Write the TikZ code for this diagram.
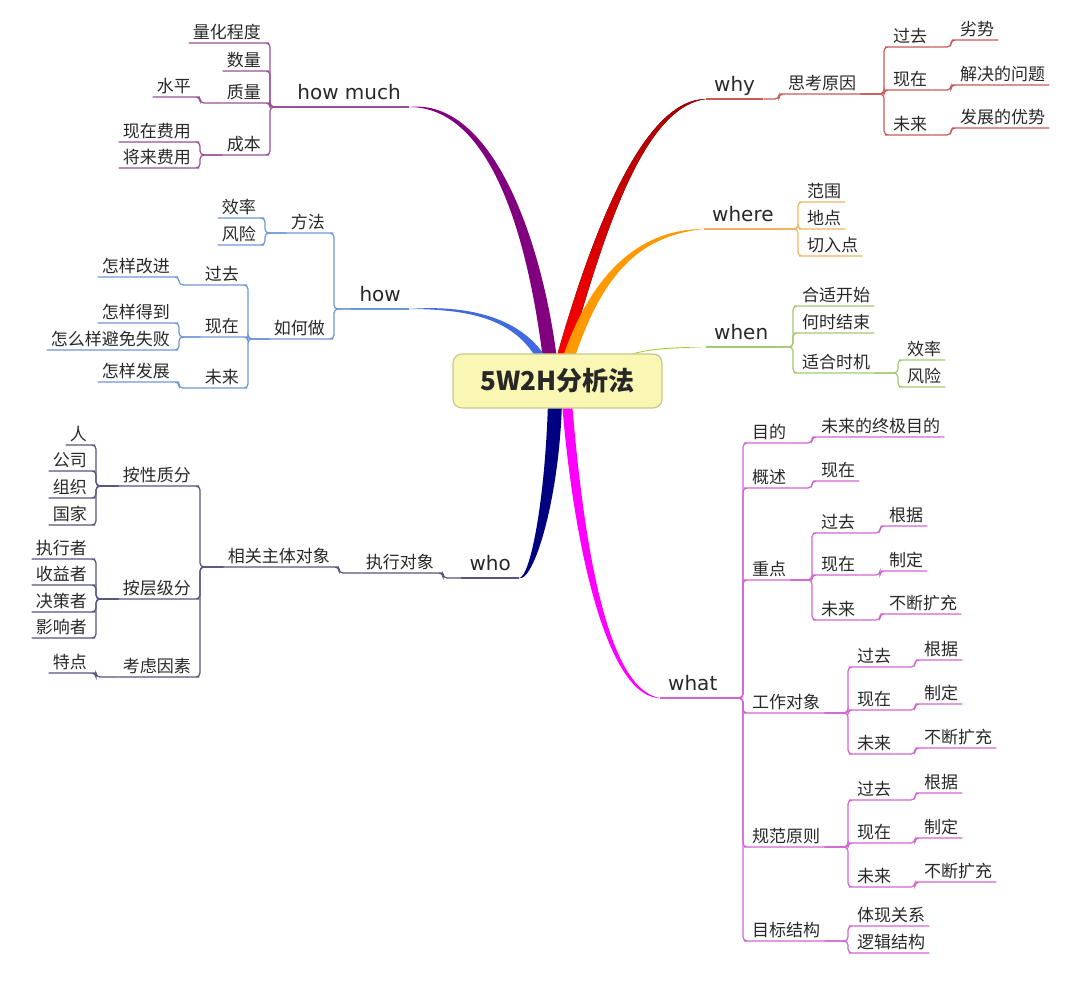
\documentclass[tikz,border=0pt]{standalone}
\usepackage{fontspec}
\setmainfont{Noto Sans CJK SC}
\newfontfamily\latinfont{DejaVu Sans}
\usetikzlibrary{calc,backgrounds}

\definecolor{ink}{RGB}{40,40,40}
\definecolor{rootfill}{RGB}{250,247,180}
\definecolor{rootedge}{RGB}{200,200,140}
\definecolor{hmthick}{RGB}{128,0,128}
\definecolor{howthick}{RGB}{65,105,225}
\definecolor{whothick}{RGB}{0,0,128}
\definecolor{whythick}{RGB}{255,0,0}
\definecolor{whyend}{RGB}{170,0,0}
\definecolor{wherethick}{RGB}{255,153,0}
\definecolor{whenthick}{RGB}{154,205,50}
\definecolor{whatthick}{RGB}{255,0,255}
\definecolor{hmthin}{RGB}{150,80,150}
\definecolor{howthin}{RGB}{110,150,215}
\definecolor{whothin}{RGB}{85,85,125}
\definecolor{whythin}{RGB}{200,90,90}
\definecolor{wherethin}{RGB}{238,180,100}
\definecolor{whenthin}{RGB}{165,200,115}
\definecolor{whatthin}{RGB}{210,100,210}

% colour, start, first control, second control, end, half width, second control back
\newcommand{\bough}[7]{%
  \fill[#1] ($(#2)+(-#6,0)$) .. controls +(#3) and +(#4) .. (#5)
    .. controls +(#7) and +(#3) .. ($(#2)+(#6,0)$) -- cycle;}

\begin{document}
\begin{tikzpicture}[x=1pt, y=-1pt,
    leaf/.style={font=\fontsize{17}{20}\selectfont, text=ink, inner xsep=4pt,
      inner ysep=1pt, text height=13pt, text depth=3pt},
    leafl/.style={leaf, anchor=south east},
    leafr/.style={leaf, anchor=south west},
    topic/.style={font=\latinfont\fontsize{20}{24}\selectfont, text=ink, inner xsep=8pt,
      inner ysep=2.5pt, text height=15pt, text depth=5pt},
    topicl/.style={topic, anchor=south east},
    topicr/.style={topic, anchor=south west},
    rootbox/.style={draw=rootedge, fill=rootfill, line width=1.2pt, rounded corners=9pt,
      minimum width=209pt, minimum height=54pt, text=ink,
      font=\bfseries\fontsize{26}{30}\selectfont},
    elbowr/.style={to path={-- ($(\tikztotarget |- \tikztostart)+(-5,0)$) |- (\tikztotarget)}},
    elbowl/.style={to path={-- ($(\tikztotarget |- \tikztostart)+(5,0)$) |- (\tikztotarget)}},
    thin/.style={line width=1.2pt, rounded corners=4pt},
    hmline/.style={thin, draw=hmthin},
    howline/.style={thin, draw=howthin},
    wholine/.style={thin, draw=whothin},
    whyline/.style={thin, draw=whythin},
    whereline/.style={thin, draw=wherethin},
    whenline/.style={thin, draw=whenthin},
    whatline/.style={thin, draw=whatthin}]
    \useasboundingbox (0,0) rectangle (1080,995);

    % Центр
    \node[rootbox] (root) at (557.5,381) {5W2H分析法};

    % how much
    \node[topicl] (howmuch) at (409,107) {how much};
    \node[leafl] (lianghua) at (265,43) {量化程度};
    \node[leafl] (shuliang) at (265,71) {数量};
    \node[leafl] (zhiliang) at (265,103) {质量};
    \node[leafl] (chengben) at (265,155) {成本};
    \node[leafl] (shuiping) at (195,97) {水平};
    \node[leafl] (xzfeiyong) at (195,142) {现在费用};
    \node[leafl] (jlfeiyong) at (195,168) {将来费用};

    \draw[hmline] (howmuch.south west) -- (howmuch.south east);
    \draw[hmline] (howmuch.south west) to[elbowl] (lianghua.south east) -- (lianghua.south west);
    \draw[hmline] (howmuch.south west) to[elbowl] (shuliang.south east) -- (shuliang.south west);
    \draw[hmline] (howmuch.south west) to[elbowl] (zhiliang.south east) -- (zhiliang.south west);
    \draw[hmline] (howmuch.south west) to[elbowl] (chengben.south east) -- (chengben.south west);
    \draw[hmline] (zhiliang.south west) to[elbowl] (shuiping.south east) -- (shuiping.south west);
    \draw[hmline] (chengben.south west) to[elbowl] (xzfeiyong.south east) -- (xzfeiyong.south west);
    \draw[hmline] (chengben.south west) to[elbowl] (jlfeiyong.south east) -- (jlfeiyong.south west);

    % how
    \node[topicl] (how) at (409,309) {how};
    \node[leafl] (fangfa) at (329,233) {方法};
    \node[leafl] (ruhezuo) at (329,339) {如何做};
    \node[leafl] (hxiaolv) at (260,218) {效率};
    \node[leafl] (hfengxian) at (260,245) {风险};
    \node[leafl] (hguoqu) at (243,285) {过去};
    \node[leafl] (hxianzai) at (243,337) {现在};
    \node[leafl] (hweilai) at (243,388) {未来};
    \node[leafl] (gaijin) at (174,277) {怎样改进};
    \node[leafl] (dedao) at (174,323) {怎样得到};
    \node[leafl] (bimian) at (174,350) {怎么样避免失败};
    \node[leafl] (fazhan) at (174,382) {怎样发展};

    \draw[howline] (how.south west) -- (how.south east);
    \draw[howline] (how.south west) to[elbowl] (fangfa.south east) -- (fangfa.south west);
    \draw[howline] (how.south west) to[elbowl] (ruhezuo.south east) -- (ruhezuo.south west);
    \draw[howline] (fangfa.south west) to[elbowl] (hxiaolv.south east) -- (hxiaolv.south west);
    \draw[howline] (fangfa.south west) to[elbowl] (hfengxian.south east) -- (hfengxian.south west);
    \draw[howline] (ruhezuo.south west) to[elbowl] (hguoqu.south east) -- (hguoqu.south west);
    \draw[howline] (ruhezuo.south west) to[elbowl] (hxianzai.south east) -- (hxianzai.south west);
    \draw[howline] (ruhezuo.south west) to[elbowl] (hweilai.south east) -- (hweilai.south west);
    \draw[howline] (hguoqu.south west) to[elbowl] (gaijin.south east) -- (gaijin.south west);
    \draw[howline] (hxianzai.south west) to[elbowl] (dedao.south east) -- (dedao.south west);
    \draw[howline] (hxianzai.south west) to[elbowl] (bimian.south east) -- (bimian.south west);
    \draw[howline] (hweilai.south west) to[elbowl] (fazhan.south east) -- (fazhan.south west);

    % who
    \node[topicl] (who) at (519,578) {who};
    \node[leafl] (zhixing) at (438,573) {执行对象};
    \node[leafl] (xiangguan) at (334,567) {相关主体对象};
    \node[leafl] (xingzhi) at (195,486) {按性质分};
    \node[leafl] (cengji) at (195,599) {按层级分};
    \node[leafl] (yinsu) at (195,677) {考虑因素};
    \node[leafl] (ren) at (91,445) {人};
    \node[leafl] (gongsi) at (91,471) {公司};
    \node[leafl] (zuzhi) at (91,498) {组织};
    \node[leafl] (guojia) at (91,525) {国家};
    \node[leafl] (zhixingzhe) at (91,559) {执行者};
    \node[leafl] (shouyi) at (91,585) {收益者};
    \node[leafl] (juece) at (91,612) {决策者};
    \node[leafl] (yingxiang) at (91,638) {影响者};
    \node[leafl] (tedian) at (91,673) {特点};

    \draw[wholine] (who.south west) -- (who.south east);
    \draw[wholine] (who.south west) to[elbowl] (zhixing.south east) -- (zhixing.south west);
    \draw[wholine] (zhixing.south west) to[elbowl] (xiangguan.south east) -- (xiangguan.south west);
    \draw[wholine] (xiangguan.south west) to[elbowl] (xingzhi.south east) -- (xingzhi.south west);
    \draw[wholine] (xiangguan.south west) to[elbowl] (cengji.south east) -- (cengji.south west);
    \draw[wholine] (xiangguan.south west) to[elbowl] (yinsu.south east) -- (yinsu.south west);
    \draw[wholine] (xingzhi.south west) to[elbowl] (ren.south east) -- (ren.south west);
    \draw[wholine] (xingzhi.south west) to[elbowl] (gongsi.south east) -- (gongsi.south west);
    \draw[wholine] (xingzhi.south west) to[elbowl] (zuzhi.south east) -- (zuzhi.south west);
    \draw[wholine] (xingzhi.south west) to[elbowl] (guojia.south east) -- (guojia.south west);
    \draw[wholine] (cengji.south west) to[elbowl] (zhixingzhe.south east) -- (zhixingzhe.south west);
    \draw[wholine] (cengji.south west) to[elbowl] (shouyi.south east) -- (shouyi.south west);
    \draw[wholine] (cengji.south west) to[elbowl] (juece.south east) -- (juece.south west);
    \draw[wholine] (cengji.south west) to[elbowl] (yingxiang.south east) -- (yingxiang.south west);
    \draw[wholine] (yinsu.south west) to[elbowl] (tedian.south east) -- (tedian.south west);

    % why
    \node[topicr] (why) at (706,99) {why};
    \node[leafr] (yuanyin) at (784,94) {思考原因};
    \node[leafr] (yguoqu) at (889,47) {过去};
    \node[leafr] (yxianzai) at (889,90) {现在};
    \node[leafr] (yweilai) at (889,135) {未来};
    \node[leafr] (lieshi) at (956,40) {劣势};
    \node[leafr] (jiejue) at (956,85) {解决的问题};
    \node[leafr] (youshi) at (956,128) {发展的优势};

    \draw[whyline] (why.south west) -- (why.south east);
    \draw[whyline] (why.south east) to[elbowr] (yuanyin.south west) -- (yuanyin.south east);
    \draw[whyline] (yuanyin.south east) to[elbowr] (yguoqu.south west) -- (yguoqu.south east);
    \draw[whyline] (yuanyin.south east) to[elbowr] (yxianzai.south west) -- (yxianzai.south east);
    \draw[whyline] (yuanyin.south east) to[elbowr] (yweilai.south west) -- (yweilai.south east);
    \draw[whyline] (yguoqu.south east) to[elbowr] (lieshi.south west) -- (lieshi.south east);
    \draw[whyline] (yxianzai.south east) to[elbowr] (jiejue.south west) -- (jiejue.south east);
    \draw[whyline] (yweilai.south east) to[elbowr] (youshi.south west) -- (youshi.south east);

    % where
    \node[topicr] (where) at (704,229) {where};
    \node[leafr] (fanwei) at (803,202) {范围};
    \node[leafr] (didian) at (803,229) {地点};
    \node[leafr] (qieru) at (803,256) {切入点};

    \draw[whereline] (where.south west) -- (where.south east);
    \draw[whereline] (where.south east) to[elbowr] (fanwei.south west) -- (fanwei.south east);
    \draw[whereline] (where.south east) to[elbowr] (didian.south west) -- (didian.south east);
    \draw[whereline] (where.south east) to[elbowr] (qieru.south west) -- (qieru.south east);

    % when
    \node[topicr] (when) at (706,347) {when};
    \node[leafr] (kaishi) at (798,306) {合适开始};
    \node[leafr] (jieshu) at (798,333) {何时结束};
    \node[leafr] (shiji) at (798,373) {适合时机};
    \node[leafr] (wxiaolv) at (903,360) {效率};
    \node[leafr] (wfengxian) at (903,387) {风险};

    \draw[whenline] (when.south west) -- (when.south east);
    \draw[whenline] (when.south east) to[elbowr] (kaishi.south west) -- (kaishi.south east);
    \draw[whenline] (when.south east) to[elbowr] (jieshu.south west) -- (jieshu.south east);
    \draw[whenline] (when.south east) to[elbowr] (shiji.south west) -- (shiji.south east);
    \draw[whenline] (shiji.south east) to[elbowr] (wxiaolv.south west) -- (wxiaolv.south east);
    \draw[whenline] (shiji.south east) to[elbowr] (wfengxian.south west) -- (wfengxian.south east);

    % what
    \node[topicr] (what) at (660,698) {what};
    \node[leafr] (mudi) at (748,443) {目的};
    \node[leafr] (gaishu) at (748,488) {概述};
    \node[leafr] (zhongdian) at (748,580) {重点};
    \node[leafr] (gongzuo) at (748,713) {工作对象};
    \node[leafr] (guifan) at (748,847) {规范原则};
    \node[leafr] (jiegou) at (748,941) {目标结构};
    \node[leafr] (zhongji) at (817,437) {未来的终极目的};
    \node[leafr] (gsxianzai) at (817,481) {现在};
    \node[leafr] (zguoqu) at (817,533) {过去};
    \node[leafr] (zxianzai) at (817,575) {现在};
    \node[leafr] (zweilai) at (817,620) {未来};
    \node[leafr] (zgenju) at (885,526) {根据};
    \node[leafr] (zzhiding) at (885,571) {制定};
    \node[leafr] (zkuochong) at (885,614) {不断扩充};
    \node[leafr] (gguoqu) at (853,667) {过去};
    \node[leafr] (gxianzai) at (853,710) {现在};
    \node[leafr] (gweilai) at (853,754) {未来};
    \node[leafr] (ggenju) at (920,660) {根据};
    \node[leafr] (gzhiding) at (920,704) {制定};
    \node[leafr] (gkuochong) at (920,748) {不断扩充};
    \node[leafr] (fguoqu) at (853,800) {过去};
    \node[leafr] (fxianzai) at (853,843) {现在};
    \node[leafr] (fweilai) at (853,887) {未来};
    \node[leafr] (fgenju) at (920,793) {根据};
    \node[leafr] (fzhiding) at (920,838) {制定};
    \node[leafr] (fkuochong) at (920,882) {不断扩充};
    \node[leafr] (tixian) at (853,926) {体现关系};
    \node[leafr] (luoji) at (853,953) {逻辑结构};

    \draw[whatline] (what.south west) -- (what.south east);
    \draw[whatline] (what.south east) to[elbowr] (mudi.south west) -- (mudi.south east);
    \draw[whatline] (what.south east) to[elbowr] (gaishu.south west) -- (gaishu.south east);
    \draw[whatline] (what.south east) to[elbowr] (zhongdian.south west) -- (zhongdian.south east);
    \draw[whatline] (what.south east) to[elbowr] (gongzuo.south west) -- (gongzuo.south east);
    \draw[whatline] (what.south east) to[elbowr] (guifan.south west) -- (guifan.south east);
    \draw[whatline] (what.south east) to[elbowr] (jiegou.south west) -- (jiegou.south east);
    \draw[whatline] (mudi.south east) to[elbowr] (zhongji.south west) -- (zhongji.south east);
    \draw[whatline] (gaishu.south east) to[elbowr] (gsxianzai.south west) -- (gsxianzai.south east);
    \draw[whatline] (zhongdian.south east) to[elbowr] (zguoqu.south west) -- (zguoqu.south east);
    \draw[whatline] (zhongdian.south east) to[elbowr] (zxianzai.south west) -- (zxianzai.south east);
    \draw[whatline] (zhongdian.south east) to[elbowr] (zweilai.south west) -- (zweilai.south east);
    \draw[whatline] (zguoqu.south east) to[elbowr] (zgenju.south west) -- (zgenju.south east);
    \draw[whatline] (zxianzai.south east) to[elbowr] (zzhiding.south west) -- (zzhiding.south east);
    \draw[whatline] (zweilai.south east) to[elbowr] (zkuochong.south west) -- (zkuochong.south east);
    \draw[whatline] (gongzuo.south east) to[elbowr] (gguoqu.south west) -- (gguoqu.south east);
    \draw[whatline] (gongzuo.south east) to[elbowr] (gxianzai.south west) -- (gxianzai.south east);
    \draw[whatline] (gongzuo.south east) to[elbowr] (gweilai.south west) -- (gweilai.south east);
    \draw[whatline] (gguoqu.south east) to[elbowr] (ggenju.south west) -- (ggenju.south east);
    \draw[whatline] (gxianzai.south east) to[elbowr] (gzhiding.south west) -- (gzhiding.south east);
    \draw[whatline] (gweilai.south east) to[elbowr] (gkuochong.south west) -- (gkuochong.south east);
    \draw[whatline] (guifan.south east) to[elbowr] (fguoqu.south west) -- (fguoqu.south east);
    \draw[whatline] (guifan.south east) to[elbowr] (fxianzai.south west) -- (fxianzai.south east);
    \draw[whatline] (guifan.south east) to[elbowr] (fweilai.south west) -- (fweilai.south east);
    \draw[whatline] (fguoqu.south east) to[elbowr] (fgenju.south west) -- (fgenju.south east);
    \draw[whatline] (fxianzai.south east) to[elbowr] (fzhiding.south west) -- (fzhiding.south east);
    \draw[whatline] (fweilai.south east) to[elbowr] (fkuochong.south west) -- (fkuochong.south east);
    \draw[whatline] (jiegou.south east) to[elbowr] (tixian.south west) -- (tixian.south east);
    \draw[whatline] (jiegou.south east) to[elbowr] (luoji.south west) -- (luoji.south east);

    % Толстые ветви под центром
    \begin{scope}[on background layer]
    \coordinate (hmroot) at ($(root.north)+(-7.5,6)$);
    \coordinate (howroot) at ($(root.north)+(-15.5,6)$);
    \coordinate (whyroot) at ($(root.north)+(4.5,6)$);
    \coordinate (whereroot) at ($(root.north)+(10.5,6)$);
    \coordinate (whenroot) at ($(root.north)+(66.5,3)$);
    \coordinate (whoroot) at ($(root.south)+(-2.5,-6)$);
    \coordinate (whatroot) at ($(root.south)+(9.5,-6)$);
    \bough{hmthick}{hmroot}{-15,-120}{83,0}{howmuch.south east}{7}{83,-9}
    \bough{howthick}{howroot}{-22,-38}{66,0}{how.south east}{5}{66,-5}
    \bough{top color=whyend, middle color=whythick, bottom color=whythick}{whyroot}{38,-135}{-61,0}{why.south west}{6}{-61,8}
    \bough{wherethick}{whereroot}{27,-80}{-69,0}{where.south west}{6}{-69,7}
    \bough{whenthick}{whenroot}{25,-8}{-40,0}{when.south west}{1.5}{-40,2}
    \bough{whothick}{whoroot}{-3,100}{11,0}{who.south east}{7}{14,5}
    \bough{whatthick}{whatroot}{13,158}{-50,0}{what.south west}{5}{-50,-8}
    \end{scope}
\end{tikzpicture}
\end{document}
